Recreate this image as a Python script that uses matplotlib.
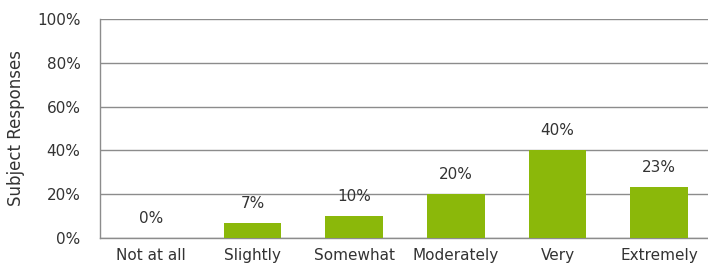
import numpy as np
import matplotlib
matplotlib.use('Agg')
import matplotlib.pyplot as plt
from matplotlib.ticker import PercentFormatter

# survey answers, share of subjects in %
categories = ["Not at all", "Slightly", "Somewhat", "Moderately", "Very", "Extremely"]
responses = [0.0, 6.7, 10.0, 20.0, 40.0, 23.3]
labels = ["0%", "7%", "10%", "20%", "40%", "23%"]

bar_color = '#8BB80A'
grid_color = '#8C8C8C'
text_color = '#333333'

plt.rcParams['font.family'] = ['DejaVu Sans']

fig = plt.figure(figsize=(7.08, 2.77), dpi=100)
ax = fig.add_axes([100 / 708, 1 - 238 / 277, 610 / 708, 219 / 277])

x = np.arange(len(categories))
ax.bar(x, responses, width=0.57, color=bar_color, zorder=3)

for xi, val, lab in zip(x, responses, labels):
	ax.annotate(lab, (xi, val), xytext=(0, 14), textcoords='offset points',
		ha='center', va='center', fontsize=11, color=text_color)

ax.set_xlim(-0.5, len(categories) - 0.5)
ax.set_ylim(0, 100)
ax.set_yticks(np.arange(0, 101, 20))
ax.yaxis.set_major_formatter(PercentFormatter(decimals=0))
ax.set_xticks(x)
ax.set_xticklabels(categories)
ax.tick_params(axis='y', length=0, pad=14, labelsize=11, labelcolor=text_color)
ax.tick_params(axis='x', length=0, pad=7, labelsize=11, labelcolor=text_color)

ax.grid(axis='y', color=grid_color, linewidth=1.0, zorder=0)
for s in ['top', 'right']:
	ax.spines[s].set_visible(False)
ax.spines['left'].set_color(grid_color)
ax.spines['bottom'].set_color(grid_color)
ax.spines['left'].set_linewidth(1.0)
ax.spines['bottom'].set_linewidth(1.0)

ax.set_ylabel("Subject Responses", fontsize=12, color=text_color)
ax.yaxis.set_label_coords(-75 / 610, 0.5)

fig.savefig('out.png', dpi=100)
